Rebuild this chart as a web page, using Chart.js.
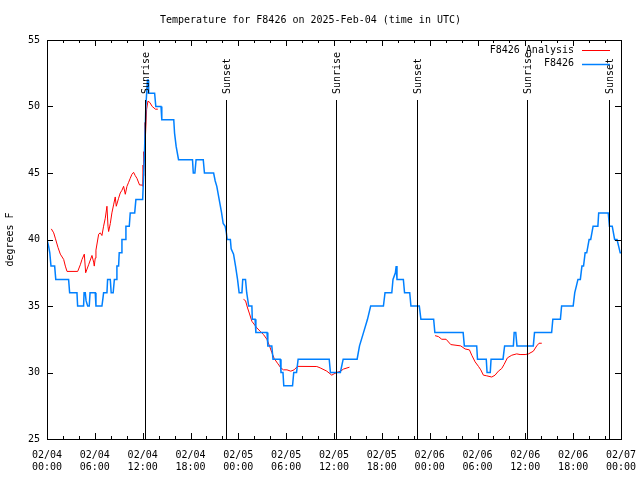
<!DOCTYPE html>
<html>
<head>
<meta charset="utf-8">
<script src="https://cdn.jsdelivr.net/npm/chart.js@4"></script>
<style>
  html, body { margin: 0; padding: 0; background: #fff; }
</style>
</head>
<body>
<canvas id="tempChart" width="640" height="480"></canvas>
<script>
// Hours since 2025-02-04 00:00 UTC

// F8426 observations
const obsHours = [0, 0.2, 0.35, 0.5, 0.96, 1.1, 2.71, 2.84, 3.76, 3.84, 4.59, 4.65, 4.8, 4.9, 5.0, 5.1, 5.3, 5.4, 6.05, 6.14,
  6.89, 7.0, 7.1, 7.52, 7.6, 7.94, 8.05, 8.3, 8.45, 8.69, 8.77, 8.98, 9.06, 9.31, 9.4, 9.82, 9.9, 10.32, 10.44, 11.0,
  11.15, 12.0, 12.2, 12.4, 12.6, 12.7, 12.75, 13.5, 13.65, 14.3, 14.4, 15.9, 16.0, 16.2, 16.5, 18.25, 18.35, 18.55, 18.7, 19.6,
  19.75, 20.9, 21.1, 21.3, 21.6, 21.9, 22.1, 22.35, 22.5, 22.6, 23.0, 23.1, 23.4, 23.65, 23.9, 24.1, 24.45, 24.55, 24.9, 25.05,
  25.3, 25.7, 25.75, 26.1, 26.2, 27.6, 27.7, 28.2, 28.35, 29.25, 29.35, 29.6, 29.7, 30.8, 30.95, 31.3, 31.5, 35.4, 35.55, 36.8,
  37.15, 38.9, 39.2, 39.7, 40.2, 40.6, 42.2, 42.4, 43.25, 43.4, 43.7, 43.8, 43.9, 44.7, 44.85, 45.5, 45.65, 46.7, 46.9, 48.5,
  48.65, 52.2, 52.35, 53.9, 54.0, 55.1, 55.2, 55.6, 55.7, 57.2, 57.4, 58.5, 58.6, 58.8, 58.95, 61.0, 61.15, 63.3, 63.45, 64.4,
  64.55, 66.0, 66.2, 66.4, 66.6, 66.9, 67.1, 67.3, 67.5, 67.7, 68.0, 68.2, 68.5, 69.1, 69.2, 70.4, 70.55, 70.9, 71.2, 71.5,
  71.7, 71.9, 72];
const obsTemps = [40, 39.5, 39, 38, 38, 37, 37, 36, 36, 35, 35, 36, 36, 35.4, 35.4, 35, 35, 36, 36, 35,
  35, 35.5, 36, 36, 37, 37, 36, 36, 37, 37, 38, 38, 39, 39, 40, 40, 41, 41, 42, 42,
  43, 43, 46, 50, 52, 52, 51, 51, 50, 50, 49, 49, 48, 47, 46, 46, 45, 45, 46, 46,
  45, 45, 44.4, 44, 43, 42, 41.2, 41, 40.5, 40, 40, 39.3, 38.9, 38, 37, 36, 36, 37, 37, 36,
  35, 35, 34, 34, 33, 33, 32, 32, 31, 31, 30, 30, 29, 29, 30, 30, 31, 31, 30, 30,
  31, 31, 32, 33, 34, 35, 35, 36, 36, 37, 37.5, 38, 37, 37, 36, 36, 35, 35, 34, 34,
  33, 33, 32, 32, 31, 31, 30, 30, 31, 31, 32, 32, 33, 33, 32, 32, 33, 33, 34, 34,
  35, 35, 36, 36.5, 37, 37, 38, 38, 39, 39, 40, 40, 41, 41, 42, 42, 41, 41, 40, 40,
  39.5, 39, 39];

// F8426 Analysis (null = gap between runs)
const anaHours = [0.54, 0.84, 1.04, 1.38, 1.67, 2.09, 2.3, 2.51, 3.85, 4.18, 4.39, 4.68, 4.76, 4.85, 5.22, 5.64, 5.85, 5.93, 6.05, 6.14,
  6.48, 6.68, 6.89, 7.1, 7.31, 7.52, 7.65, 7.73, 7.94, 8.14, 8.35, 8.56, 8.69, 8.77, 8.98, 9.19, 9.4, 9.61, 9.82, 10.03,
  10.24, 10.44, 10.65, 10.86, 11.07, 11.28, 11.61, 11.9, 12.0, 12.05, 12.1, 12.15, 12.25, 12.3, 12.35, 12.5, 12.66, 12.9, 13.2, 13.6,
  13.9, 14.0,
  24.65, 24.9, 25.16, 25.41, 25.7, 26.33, 26.74, 27.16, 27.58, 27.91, 28.2, 28.5, 28.91, 29.33, 29.66, 30.1, 30.58, 31.0, 31.42, 33.84,
  34.26, 35.1, 35.72, 36.0, 36.36, 36.8, 37.2, 37.94, 38.0,
  48.68, 49.1, 49.52, 50.06, 50.65, 51.9, 52.44, 52.99, 53.28, 53.7, 54.12, 54.41, 54.74, 55.16, 55.79, 56.2, 56.62, 57.04, 57.33, 57.75,
  58.3, 58.92, 59.34, 59.97, 60.39, 61.0, 61.43, 61.72, 62.06];
const anaTemps = [40.8, 40.5, 40.1, 39.4, 38.9, 38.5, 38.0, 37.6, 37.6, 38.1, 38.5, 38.9, 38.9, 37.5, 38.1, 38.8, 38.3, 38.0, 38.6, 39.2,
  40.4, 40.5, 40.3, 41.0, 41.6, 42.5, 41.0, 40.6, 41.2, 42.0, 42.6, 43.2, 42.5, 42.5, 43.1, 43.5, 43.7, 44.0, 43.4, 44.0,
  44.3, 44.6, 44.9, 45.05, 44.8, 44.6, 44.1, 44.1, 44.0, 45.6, 44.8, 46.6, 46.0, 48.8, 47.8, 49.8, 50.4, 50.3, 50.0, 49.8,
  49.8, null,
  35.5, 35.4, 34.85, 34.4, 33.85, 33.35, 33.1, 32.85, 32.5, 32.0, 31.5, 31.05, 30.7, 30.35, 30.2, 30.2, 30.1, 30.2, 30.46, 30.45,
  30.35, 30.1, 29.8, 29.9, 30.0, 30.1, 30.26, 30.4, null,
  32.77, 32.7, 32.5, 32.5, 32.1, 32.0, 31.77, 31.7, 31.3, 30.8, 30.46, 30.2, 29.8, 29.75, 29.66, 29.8, 30.1, 30.3, 30.6, 31.1,
  31.3, 31.4, 31.35, 31.35, 31.4, 31.6, 32.0, 32.2, 32.2];

// Sunrise / sunset markers
const sunHours = [12.23, 22.4, 36.3, 46.4, 60.2, 70.5];
const sunLabels = ["Sunrise", "Sunset", "Sunrise", "Sunset", "Sunrise", "Sunset"];

// x tick labels, one per 6 hours
const xTickDays = ["02/04", "02/04", "02/04", "02/04", "02/05", "02/05", "02/05", "02/05", "02/06", "02/06", "02/06", "02/06", "02/07"];
const xTickTimes = ["00:00", "06:00", "12:00", "18:00", "00:00", "06:00", "12:00", "18:00", "00:00", "06:00", "12:00", "18:00", "00:00"];

const FONT = "'DejaVu Sans Mono', monospace";
Chart.defaults.font.family = FONT;
Chart.defaults.font.size = 10;
Chart.defaults.color = "#000";

function toPoints(hours, temps) {
  return hours.map((h, i) => ({ x: h, y: temps[i] }));
}

// Border, inward ticks, sun markers and legend drawn the gnuplot way
const gnuplotFrame = {
  id: "gnuplotFrame",
  afterDatasetsDraw(chart) {
    const { ctx, chartArea: a, scales: { x, y } } = chart;
    ctx.save();
    ctx.strokeStyle = "#000";
    ctx.fillStyle = "#000";
    ctx.lineWidth = 1;

    // sunrise / sunset lines
    const topY = Math.round(y.getPixelForValue(50.5));
    ctx.font = "10px " + FONT;
    sunHours.forEach((h, i) => {
      const px = Math.round(x.getPixelForValue(h)) + 0.5;
      ctx.beginPath();
      ctx.moveTo(px, a.bottom);
      ctx.lineTo(px, topY);
      ctx.stroke();
      ctx.save();
      ctx.translate(px + 1, topY - 6);
      ctx.rotate(-Math.PI / 2);
      ctx.textAlign = "left";
      ctx.textBaseline = "middle";
      ctx.fillText(sunLabels[i], 0, 0);
      ctx.restore();
    });

    // frame
    ctx.strokeRect(a.left + 0.5, a.top + 0.5, a.right - a.left, a.bottom - a.top);

    // x ticks: major every 6 h, minor every 2 h, mirrored on top
    ctx.beginPath();
    for (let h = 0; h <= 72; h += 2) {
      const px = Math.round(x.getPixelForValue(h)) + 0.5;
      const len = h % 6 === 0 ? 6 : 3;
      ctx.moveTo(px, a.bottom);
      ctx.lineTo(px, a.bottom - len);
      ctx.moveTo(px, a.top);
      ctx.lineTo(px, a.top + len);
    }
    // y ticks, mirrored on the right
    for (let t = 25; t <= 55; t += 5) {
      const py = Math.round(y.getPixelForValue(t)) + 0.5;
      ctx.moveTo(a.left, py);
      ctx.lineTo(a.left + 6, py);
      ctx.moveTo(a.right, py);
      ctx.lineTo(a.right - 6, py);
    }
    ctx.stroke();
    ctx.restore();
  },
  afterDraw(chart) {
    const { ctx } = chart;
    ctx.save();
    ctx.font = "10px " + FONT;
    ctx.textAlign = "right";
    ctx.textBaseline = "middle";
    chart.data.datasets.forEach((ds, i) => {
      const rowY = 50 + i * 13.5;
      ctx.fillStyle = "#000";
      ctx.fillText(ds.label, 574, rowY);
      ctx.strokeStyle = ds.borderColor;
      ctx.lineWidth = ds.borderWidth;
      ctx.beginPath();
      ctx.moveTo(582, Math.round(rowY) + 0.5);
      ctx.lineTo(610, Math.round(rowY) + 0.5);
      ctx.stroke();
    });
    ctx.restore();
  }
};

const ctx = document.getElementById("tempChart").getContext("2d");
new Chart(ctx, {
  type: "line",
  data: {
    datasets: [
      {
        label: "F8426 Analysis",
        data: toPoints(anaHours, anaTemps),
        borderColor: "#ff0000",
        borderWidth: 1,
        pointRadius: 0,
        tension: 0,
        spanGaps: false,
        order: 1
      },
      {
        label: "F8426",
        data: toPoints(obsHours, obsTemps),
        borderColor: "#0080ff",
        borderWidth: 1.5,
        pointRadius: 0,
        tension: 0,
        order: 0
      }
    ]
  },
  options: {
    responsive: false,
    animation: false,
    devicePixelRatio: 1,
    layout: { padding: { left: 0, right: 19, top: 0, bottom: 0 } },
    plugins: {
      legend: { display: false },
      tooltip: { enabled: false },
      title: {
        display: true,
        text: "Temperature for F8426 on 2025-Feb-04 (time in UTC)",
        color: "#000",
        font: { family: FONT, size: 10, weight: "normal" },
        padding: { top: 14, bottom: 14 }
      }
    },
    scales: {
      x: {
        type: "linear",
        min: 0,
        max: 72,
        ticks: {
          stepSize: 6,
          autoSkip: false,
          maxRotation: 0,
          padding: 10,
          callback: (v) => {
            const i = Math.round(v / 6);
            return [xTickDays[i], xTickTimes[i]];
          }
        },
        grid: { display: false, drawTicks: false },
        border: { display: false },
        afterFit: (s) => {
          s.height = 41;
          s.paddingLeft = 0;
          s.paddingRight = 0;
        }
      },
      y: {
        min: 25,
        max: 55,
        ticks: { stepSize: 5, padding: 7 },
        grid: { display: false, drawTicks: false },
        border: { display: false },
        title: { display: true, text: "degrees F", padding: { top: 4, bottom: 0 } },
        afterFit: (s) => {
          s.width = 47;
          s.paddingTop = 0;
          s.paddingBottom = 0;
        }
      }
    }
  },
  plugins: [gnuplotFrame]
});
</script>
</body>
</html>
